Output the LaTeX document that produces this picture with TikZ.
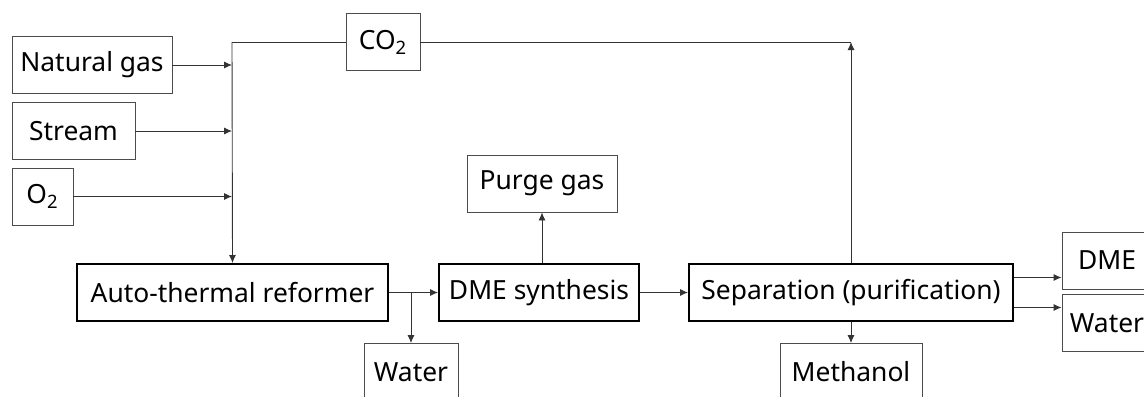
\documentclass[tikz,border=0pt]{standalone}
\usepackage{fontspec}
\setmainfont{Noto Sans}
\usetikzlibrary{arrows.meta}
\begin{document}
\begin{tikzpicture}[x=0.5pt,y=-0.5pt,
  box/.style={draw=black!70,line width=0.45pt,minimum height=28.5pt,inner sep=0pt,font=\fontsize{13.2}{15}\selectfont},
  unit/.style={box,draw=black,line width=1pt},
  flow/.style={draw=black!80,line width=0.45pt,-{Latex[length=4pt,width=3.5pt]}},
  pipe/.style={draw=black!80,line width=0.45pt}]
  \useasboundingbox (0,0) rectangle (1144,396);
  \clip (0,0) rectangle (1144,396);
  \node[box,minimum width=80pt] (ng) at (92,65) {Natural gas};
  \node[box,minimum width=61.5pt] (st) at (73.5,131) {Stream};
  \node[box,minimum width=30.5pt] (o2) at (42.5,196.5) {O\textsubscript{2}};
  \node[box,minimum width=37pt] (co2) at (383,42) {CO\textsubscript{2}};
  \node[unit,minimum width=155.5pt] (atr) at (232.5,292.5) {Auto-thermal reformer};
  \node[box,minimum width=47pt] (wat) at (411,372) {Water};
  \node[unit,minimum width=100pt] (dme) at (539,292.5) {DME synthesis};
  \node[box,minimum width=75pt] (purge) at (542,183.5) {Purge gas};
  \node[unit,minimum width=162pt] (sep) at (851,292.5) {Separation (purification)};
  \node[box,minimum width=71pt] (meth) at (851,372) {Methanol};
  \node[box,minimum width=45pt] (dmeo) at (1107,260.5) {DME};
  \node[box,minimum width=45pt] (wato) at (1107,323) {Water};
  \coordinate (j) at (232,42);
  \coordinate (s1) at ([yshift=7.5pt]sep.east);
  \coordinate (s2) at ([yshift=-7.5pt]sep.east);
  \draw[flow] (ng.east) -- (ng.east -| j);
  \draw[flow] (st.east) -- (st.east -| j);
  \draw[flow] (o2.east) -- (o2.east -| j);
  \draw[flow] (j) -- (atr.north);
  \draw[pipe] (j) -- (co2.west);
  \draw[pipe] (co2.east) -- (sep.north |- co2);
  \draw[flow] (sep.north) -- (sep.north |- co2);
  \draw[flow] (atr.east) -- (dme.west);
  \draw[flow] (atr.east -| wat) -- (wat.north);
  \draw[flow] (purge.south |- dme.north) -- (purge.south);
  \draw[flow] (dme.east) -- (sep.west);
  \draw[flow] (sep.south) -- (meth.north);
  \draw[flow] (s1) -- (s1 -| dmeo.west);
  \draw[flow] (s2) -- (s2 -| wato.west);
\end{tikzpicture}
\end{document}
